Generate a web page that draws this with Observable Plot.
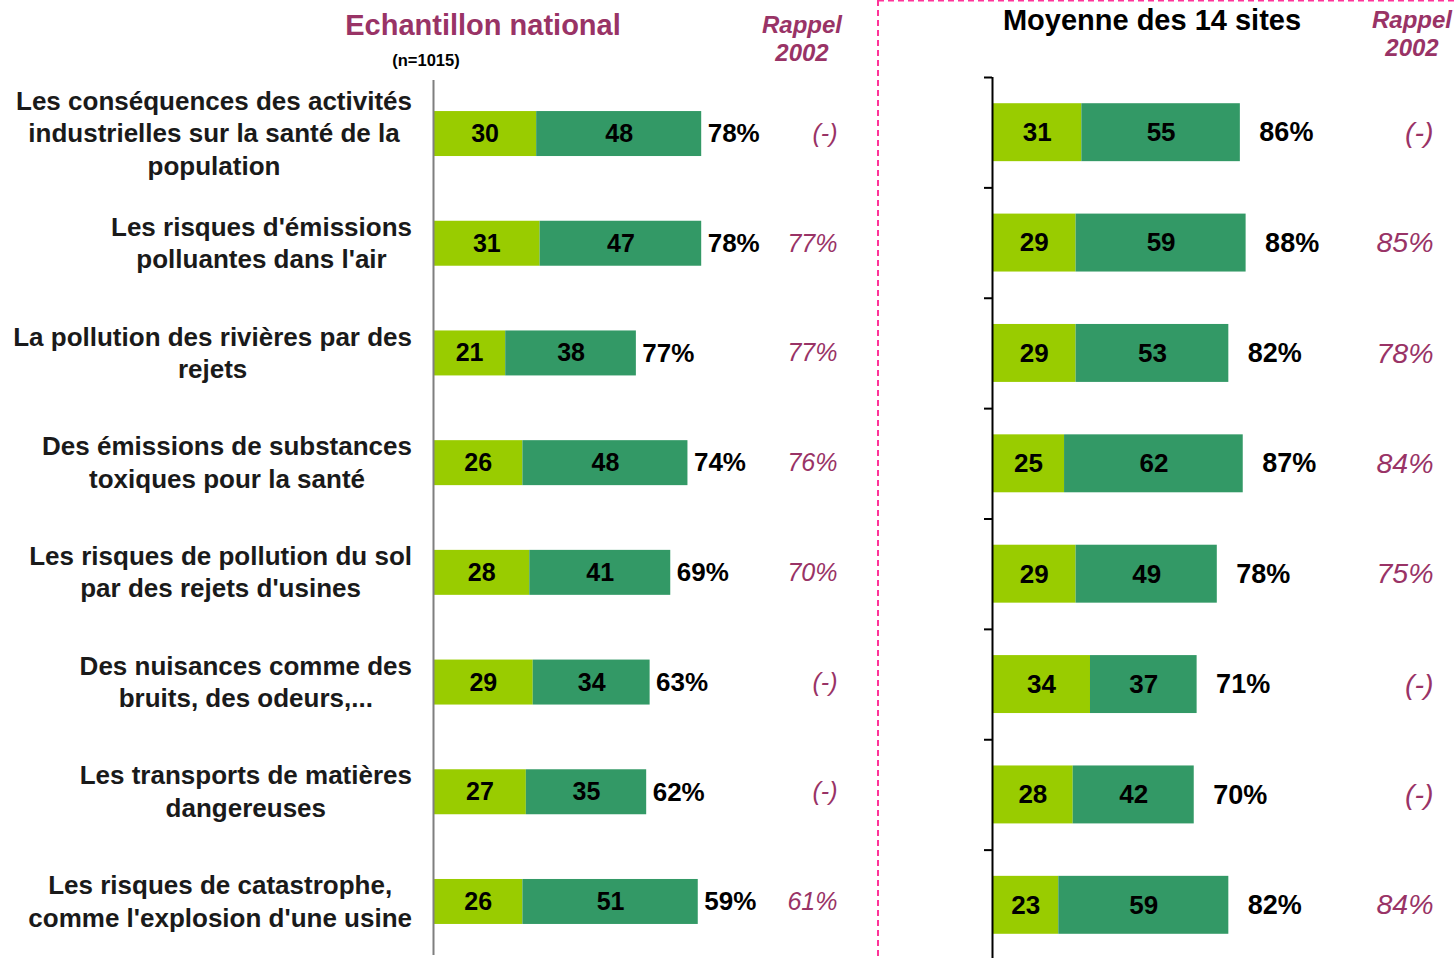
<!DOCTYPE html>
<html><head><meta charset="utf-8">
<script src="https://cdn.jsdelivr.net/npm/d3@7"></script>
<script src="https://cdn.jsdelivr.net/npm/@observablehq/plot@0.6"></script>
<style>
html,body{margin:0;padding:0;background:#fff;overflow:hidden;}
#wrap{position:relative;width:1456px;height:958px;overflow:hidden;font-family:'Liberation Sans',Arial,sans-serif;}
#left{position:absolute;left:0;top:0;width:880px;height:958px;}
#right{position:absolute;left:880px;top:0;width:576px;height:960px;}
.abs{position:absolute;white-space:nowrap;text-align:center;}
.purple{color:#993366;}
</style></head><body>
<div id="wrap">
  <div id="left"></div>
  <div id="right"></div>
  <svg style="position:absolute;left:0;top:0" width="1456" height="958">
    <line x1="878" y1="0" x2="878" y2="958" stroke="#ff3399" stroke-width="2" stroke-dasharray="6 4"/>
    <line x1="878" y1="0.5" x2="1456" y2="0.5" stroke="#ff3399" stroke-width="2" stroke-dasharray="6 4"/>
  </svg>
  <div class="abs purple" style="left:283px;width:400px;top:10.5px;font-size:29px;line-height:29px;font-weight:bold;">Echantillon national</div>
  <div class="abs" style="left:326px;width:200px;top:51.5px;font-size:16.5px;line-height:17px;font-weight:bold;">(n=1015)</div>
  <div class="abs purple" style="left:702px;width:200px;top:11px;font-size:24px;line-height:28px;font-weight:bold;font-style:italic;">Rappel<br>2002</div>
  <div class="abs" style="left:952px;width:400px;top:5.5px;font-size:29px;line-height:29px;font-weight:bold;">Moyenne des 14 sites</div>
  <div class="abs purple" style="left:1312px;width:200px;top:6px;font-size:24px;line-height:28px;font-weight:bold;font-style:italic;">Rappel<br>2002</div>
</div>
<script>
// ---- data ----
const categories = [
  "Les conséquences des activités\nindustrielles sur la santé de la\npopulation",
  "Les risques d'émissions\npolluantes dans l'air",
  "La pollution des rivières par des\nrejets",
  "Des émissions de substances\ntoxiques pour la santé",
  "Les risques de pollution du sol\npar des rejets d'usines",
  "Des nuisances comme des\nbruits, des odeurs,...",
  "Les transports de matières\ndangereuses",
  "Les risques de catastrophe,\ncomme l'explosion d'une usine"
];
const seriesNames = ["part1", "part2"];
const nationalPart1 = [30, 31, 21, 26, 28, 29, 27, 26];
const nationalPart2 = [48, 47, 38, 48, 41, 34, 35, 51];
const nationalTotal = [78, 78, 77, 74, 69, 63, 62, 59];
const nationalRappel = ["(-)", "77%", "77%", "76%", "70%", "(-)", "(-)", "61%"];
const sitesPart1 = [31, 29, 29, 25, 29, 34, 28, 23];
const sitesPart2 = [55, 59, 53, 62, 49, 37, 42, 59];
const sitesTotal = [86, 88, 82, 87, 78, 71, 70, 82];
const sitesRappel = ["(-)", "85%", "78%", "84%", "75%", "(-)", "(-)", "84%"];

// ---- styles ----
const LIGHT = "#99cc00", DARK = "#339966", PURPLE = "#993366";
const FONT = "'Liberation Sans', Arial, sans-serif";

function rowsOf(p1, p2, tot, rap) {
  return categories.map((c, i) => ({cat: c, a: p1[i], b: p2[i], total: tot[i], rappel: rap[i]}));
}
function longOf(p1, p2) {
  const out = [];
  categories.forEach((c, i) => {
    out.push({cat: c, series: seriesNames[0], value: p1[i]});
    out.push({cat: c, series: seriesNames[1], value: p2[i]});
  });
  return out;
}

const natRows = rowsOf(nationalPart1, nationalPart2, nationalTotal, nationalRappel);
const natLong = longOf(nationalPart1, nationalPart2);
const siteRows = rowsOf(sitesPart1, sitesPart2, sitesTotal, sitesRappel);
const siteLong = longOf(sitesPart1, sitesPart2);

// ---- left panel ----
const left = Plot.plot({
  width: 880, height: 958,
  marginLeft: 433, marginRight: 0, marginTop: 80, marginBottom: 3,
  x: {domain: [0, 130], axis: null},
  y: {domain: categories, paddingInner: 0.59, paddingOuter: 0.283, round: false, axis: null},
  color: {domain: seriesNames, range: [LIGHT, DARK]},
  style: {fontFamily: FONT, background: "transparent", overflow: "visible"},
  marks: [
    Plot.barX(natLong, {x: "value", y: "cat", fill: "series"}),
    Plot.text(natLong, Plot.stackX({x: "value", y: "cat", z: "series", text: "value", fontSize: 25, fontWeight: "bold", fill: "black"})),
    Plot.text(natRows, {x: d => d.a + d.b, y: "cat", text: d => d.total + "%", textAnchor: "start", dx: 6, fontSize: 26, fontWeight: "bold", fill: "black"}),
    Plot.text(natRows, {y: "cat", text: "rappel", frameAnchor: "right", textAnchor: "end", dx: -43, fontSize: 25, fontStyle: "italic", fill: PURPLE}),
    Plot.text(categories, {y: d => d, text: d => d, frameAnchor: "left", textAnchor: "middle", lineHeight: 1.25, dy: -2, fontSize: 26, fontWeight: "bold", fill: "#1a1a1a"}),
    Plot.ruleX([0], {stroke: "#7f7f7f", strokeWidth: 2})
  ]
});
document.getElementById("left").append(left);

// ---- right panel ----
const rightHeight = 960, rightTop = 77;
const stepR = (rightHeight - rightTop) / categories.length;
const xMaxR = 161;
const pxPerUnitR = (576 - 112) / xMaxR;
const right = Plot.plot({
  width: 576, height: rightHeight,
  marginLeft: 112, marginRight: 0, marginTop: rightTop, marginBottom: 0,
  x: {domain: [0, xMaxR], axis: null},
  y: {domain: categories, paddingInner: 0.475, paddingOuter: 0.2375, round: false, axis: null},
  color: {domain: seriesNames, range: [LIGHT, DARK]},
  style: {fontFamily: FONT, background: "transparent", overflow: "visible"},
  marks: [
    Plot.barX(siteLong, {x: "value", y: "cat", fill: "series"}),
    Plot.text(siteLong, Plot.stackX({x: "value", y: "cat", z: "series", text: "value", fontSize: 26, fontWeight: "bold", fill: "black"})),
    Plot.text(siteRows, {x: d => d.a + d.b, y: "cat", text: d => d.total + "%", textAnchor: "start", dx: 19, fontSize: 27, fontWeight: "bold", fill: "black"}),
    Plot.text(siteRows, {y: "cat", text: "rappel", frameAnchor: "right", textAnchor: "end", dx: -23, fontSize: 28.5, fontStyle: "italic", fill: PURPLE}),
    Plot.ruleY(categories, {y: d => d, x1: -8 / pxPerUnitR, x2: 0, dy: -stepR / 2, stroke: "black", strokeWidth: 2}),
    Plot.ruleX([0], {stroke: "black", strokeWidth: 2})
  ]
});
document.getElementById("right").append(right);

// right-align category label blocks (lines centered within each block)
const wrapRect = document.getElementById("wrap").getBoundingClientRect();
const flatCats = new Set(categories.map(c => c.replace(/\n/g, "")));
document.querySelectorAll('#left svg text').forEach(t => {
  if (!flatCats.has(t.textContent.replace(/\n/g, ""))) return;
  const r = t.getBoundingClientRect();
  const shift = 412 - (r.right - wrapRect.left);
  t.setAttribute("transform", `translate(${shift},0) ` + (t.getAttribute("transform") || ""));
});
</script>
</body></html>
